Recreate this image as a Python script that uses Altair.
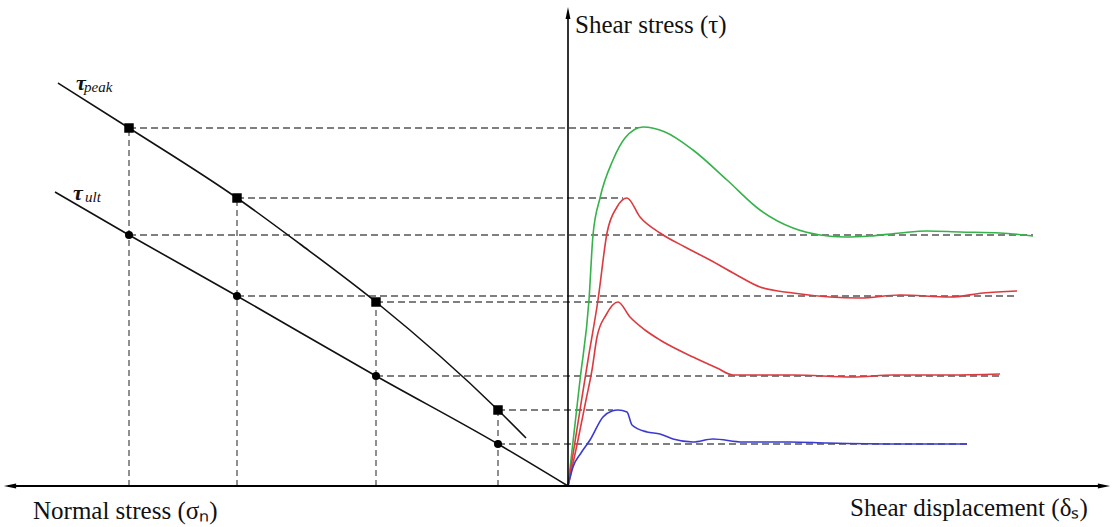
import altair as alt
import pandas as pd

# ---- data (arbitrary units: x>0 shear displacement, x<0 normal stress, y shear stress)
sigma_n = [-439, -331, -192, -70]
tau_peak = [358, 288, 184, 76]
tau_ult = [251, 190, 110, 42]

peak_env_x = [-510, -439, -331, -268, -192, -70, -42]
peak_env_y = [403, 358, 288, 242, 184, 76, 48]
ult_env_x = [-513, -439, -331, -192, -70, 0]
ult_env_y = [294, 251, 190, 110, 42, 0]

# horizontal guide ends (on the shear-displacement side)
peak_guide_end = [70, 55, 44, 45]
ult_guide_end = [465, 449, 432, 399]

green_x = [0, 12, 21, 25, 32, 45, 57, 75, 97, 125, 159, 192, 225, 252, 277, 302, 332, 359, 392, 432, 465]
green_y = [0, 106, 186, 251, 288, 326, 348, 359, 354, 336, 306, 276, 258, 251, 249, 250, 253, 255, 254, 253, 250]
red1_x = [0, 12, 20, 30, 39, 49, 59, 72, 92, 117, 142, 167, 192, 225, 262, 292, 332, 382, 415, 449]
red1_y = [0, 76, 126, 186, 253, 279, 288, 269, 253, 239, 226, 212, 199, 193, 189, 188, 191, 189, 193, 195]
red2_x = [0, 10, 18, 24, 29, 38, 50, 62, 77, 92, 125, 149, 165, 225, 285, 325, 382, 432]
red2_y = [0, 46, 86, 116, 149, 171, 184, 169, 156, 146, 129, 118, 111, 111, 109, 111, 111, 112]
blue_x = [0, 5, 13, 22, 35, 44, 50, 59, 64, 79, 92, 105, 125, 145, 175, 222, 259, 332, 399]
blue_y = [0, 19, 33, 46, 69, 75, 76, 74, 61, 54, 52, 47, 44, 47, 44, 44, 43, 42, 42]

curve_names = ["green", "red1", "red2", "blue"]
curve_colors = ["#35b34a", "#dc3a3e", "#dc3a3e", "#3a3ad2"]

FONT = "Liberation Serif"
X = alt.Scale(domain=[-568, 546], nice=False, zero=False)
Y = alt.Scale(domain=[-41, 486], nice=False, zero=False)


def xx(f="x"):
    return alt.X(f"{f}:Q", scale=X, axis=None)


def yy(f="y"):
    return alt.Y(f"{f}:Q", scale=Y, axis=None)


# curves
rows = []
for name, xs, ys in [("green", green_x, green_y), ("red1", red1_x, red1_y),
                     ("red2", red2_x, red2_y), ("blue", blue_x, blue_y)]:
    for i, (a, b) in enumerate(zip(xs, ys)):
        rows.append({"series": name, "x": a, "y": b, "o": i})
curves_df = pd.DataFrame(rows)
curves = alt.Chart(curves_df).mark_line(strokeWidth=1.6, interpolate="monotone").encode(
    x=xx(), y=yy(), order="o:Q",
    color=alt.Color("series:N", scale=alt.Scale(domain=curve_names, range=curve_colors), legend=None),
)

# envelopes
env_rows = []
for name, xs, ys in [("peak", peak_env_x, peak_env_y), ("ult", ult_env_x, ult_env_y)]:
    for i, (a, b) in enumerate(zip(xs, ys)):
        env_rows.append({"env": name, "x": a, "y": b, "o": i})
env = alt.Chart(pd.DataFrame(env_rows)).mark_line(
    color="#111", strokeWidth=1.6, interpolate="monotone"
).encode(x=xx(), y=yy(), order="o:Q", detail="env:N")

# guides
h_rows = []
for s, tp, tu, pe, ue in zip(sigma_n, tau_peak, tau_ult, peak_guide_end, ult_guide_end):
    h_rows.append({"x": s, "x2": pe, "y": tp})
    h_rows.append({"x": s, "x2": ue, "y": tu})
hguides = alt.Chart(pd.DataFrame(h_rows)).mark_rule(
    color="#555", strokeWidth=1.3, strokeDash=[7, 4]
).encode(x=xx(), x2="x2:Q", y=yy())

v_rows = [{"x": s, "y": 0, "y2": tp} for s, tp in zip(sigma_n, tau_peak)]
vguides = alt.Chart(pd.DataFrame(v_rows)).mark_rule(
    color="#555", strokeWidth=1.3, strokeDash=[6, 4]
).encode(x=xx(), y=yy(), y2="y2:Q")

pts_df = pd.DataFrame({"x": sigma_n, "yp": tau_peak, "yu": tau_ult})
squares = alt.Chart(pts_df).mark_point(shape="square", filled=True, size=90, color="#000", opacity=1).encode(
    x=xx(), y=yy("yp"))
circles = alt.Chart(pts_df).mark_point(shape="circle", filled=True, size=65, color="#000", opacity=1).encode(
    x=xx(), y=yy("yu"))

# axes
axis_df = pd.DataFrame({"x": [-560, 0], "x2": [537, 0], "y": [0, 0], "y2": [0, 474]})
haxis = alt.Chart(axis_df.iloc[[0]]).mark_rule(color="#000", strokeWidth=2).encode(
    x=xx(), x2="x2:Q", y=yy())
vaxis = alt.Chart(axis_df.iloc[[1]]).mark_rule(color="#000", strokeWidth=1.6).encode(
    x=xx(), y=yy(), y2="y2:Q")

arrows = []
for ax, ay, path in [(-558, 0, "M-1,0L1,-0.4L1,0.4Z"),
                     (536, 0, "M1,0L-1,-0.4L-1,0.4Z"),
                     (0, 473, "M0,-1L-0.4,1L0.4,1Z")]:
    arrows.append(alt.Chart(pd.DataFrame({"x": [ax], "y": [ay]})).mark_point(
        shape=path, filled=True, size=150, color="#000", opacity=1).encode(x=xx(), y=yy()))

# texts
labels = [
    ("Shear stress (τ)", 7, 453, 25),
    ("Normal stress (σₙ)", -535, -33, 25),
    ("Shear displacement (δₛ)", 282, -30, 25),
]
texts = []
for t, tx, ty, fs in labels:
    texts.append(alt.Chart(pd.DataFrame({"x": [tx], "y": [ty], "t": [t]})).mark_text(
        font=FONT, fontSize=fs, align="left", baseline="alphabetic", color="#111"
    ).encode(x=xx(), y=yy(), text="t:N"))

sym = [("τ", -492, 396, 22), ("τ", -495, 286, 22)]
subs = [("peak", -484, 394, 15), ("ult", -483, 284, 15)]
for t, tx, ty, fs in sym:
    texts.append(alt.Chart(pd.DataFrame({"x": [tx], "y": [ty], "t": [t]})).mark_text(
        font=FONT, fontSize=fs, fontStyle="italic", fontWeight="bold", align="left",
        baseline="alphabetic", color="#111").encode(x=xx(), y=yy(), text="t:N"))
for t, tx, ty, fs in subs:
    texts.append(alt.Chart(pd.DataFrame({"x": [tx], "y": [ty], "t": [t]})).mark_text(
        font=FONT, fontSize=fs, fontStyle="italic", align="left",
        baseline="alphabetic", color="#111").encode(x=xx(), y=yy(), text="t:N"))

chart = alt.layer(
    hguides, vguides, env, curves, squares, circles, haxis, vaxis, *arrows, *texts
).properties(
    width=1114, height=527, padding=0,
    autosize=alt.AutoSizeParams(type="none"),
    background="white",
).configure_view(stroke=None)

chart.save("out.html", embed_options={"renderer": "svg", "actions": False})
